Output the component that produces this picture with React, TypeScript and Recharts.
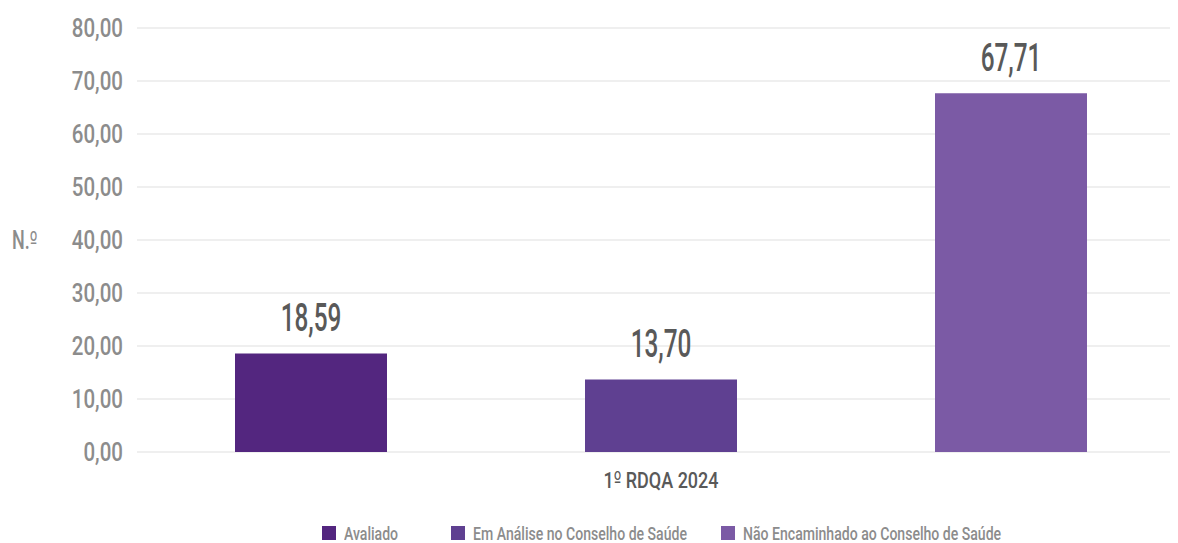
import { BarChart, Bar, XAxis, YAxis, CartesianGrid, Legend, LabelList } from "recharts";

const categories = ["1º RDQA 2024"];
const avaliado = [18.59];
const emAnalise = [13.7];
const naoEncaminhado = [67.71];
const yTicks = [0, 10, 20, 30, 40, 50, 60, 70, 80];

const series = [
  { key: "avaliado", name: "Avaliado", color: "#53267f" },
  { key: "emAnalise", name: "Em Análise no Conselho de Saúde", color: "#5f4091" },
  { key: "naoEncaminhado", name: "Não Encaminhado ao Conselho de Saúde", color: "#7b5aa5" },
];

const data = categories.map((name, i) => ({
  name,
  avaliado: avaliado[i],
  emAnalise: emAnalise[i],
  naoEncaminhado: naoEncaminhado[i],
}));

const FONT = "Roboto, 'DejaVu Sans Condensed', sans-serif";
const ORD_FONT = "'DejaVu Sans Condensed', 'DejaVu Sans', sans-serif";
const fmt = (v: number) => v.toFixed(2).replace(".", ",");

// the ordinal sign (º) is drawn with DejaVu, which has the underlined form
const withOrdinal = (s: string) =>
  s.split("º").flatMap((part, i, arr) =>
    i < arr.length - 1
      ? [<tspan key={`p${i}`}>{part}</tspan>, <tspan key={`o${i}`} fontFamily={ORD_FONT} fontWeight={400}>º</tspan>]
      : [<tspan key={`p${i}`}>{part}</tspan>]
  );

// condensed look: scale glyphs horizontally
const ValueLabel = (props: any) => {
  const { x, y, width, value } = props;
  return (
    <text
      transform={`translate(${x + width / 2},${y - 22}) scale(0.64,1)`}
      textAnchor="middle"
      fontFamily={FONT}
      fontWeight={500}
      fontSize={38}
      fill="#595959"
    >
      {fmt(value)}
    </text>
  );
};

const YTick = (props: any) => {
  const { x, y, payload } = props;
  return (
    <text
      transform={`translate(${x},${y}) scale(0.82,1)`}
      textAnchor="end"
      dy="0.36em"
      fontFamily={FONT}
      fontWeight={500}
      fontSize={25}
      fill="#8c8c8c"
    >
      {fmt(payload.value)}
    </text>
  );
};

const XTick = (props: any) => {
  const { x, y, payload } = props;
  return (
    <text
      transform={`translate(${x},${y}) scale(0.8,1)`}
      textAnchor="middle"
      dy="0.71em"
      fontFamily={FONT}
      fontWeight={500}
      fontSize={22.5}
      fill="#595959"
    >
      {withOrdinal(payload.value)}
    </text>
  );
};

const YLabel = (props: any) => {
  const { viewBox } = props;
  return (
    <text
      transform={`translate(${viewBox.x + 4},${viewBox.y + viewBox.height / 2}) scale(0.72,1)`}
      dy="0.36em"
      fontFamily={FONT}
      fontWeight={500}
      fontSize={25}
      fill="#8c8c8c"
    >
      {withOrdinal("N.º")}
    </text>
  );
};

const itemWidths = [129, 270, 300];

const LegendContent = () => (
  <div style={{ display: "flex", height: 20, paddingLeft: 314, fontFamily: FONT, fontWeight: 500, fontSize: 19, color: "#8c8c8c" }}>
    {series.map((s, i) => (
      <div key={s.key} style={{ display: "flex", alignItems: "center", width: itemWidths[i], whiteSpace: "nowrap" }}>
        <span style={{ width: 14, height: 14, background: s.color, display: "inline-block", marginRight: 8, flex: "none" }} />
        <span style={{ display: "inline-block", transform: "scaleX(0.74)", transformOrigin: "left center" }}>{s.name}</span>
      </div>
    ))}
  </div>
);

export default function App() {
  return (
    <BarChart
      width={1170}
      height={535}
      data={data}
      margin={{ top: 20, right: 1, bottom: 0, left: 0 }}
      barSize={152}
      barGap={198}
    >
      <CartesianGrid vertical={false} stroke="#efefef" strokeWidth={2} />
      <XAxis
        dataKey="name"
        axisLine={false}
        tickLine={false}
        tickMargin={14}
        height={71}
        padding={{ left: 8, right: 0 }}
        tick={<XTick />}
      />
      <YAxis
        domain={[0, 80]}
        ticks={yTicks}
        axisLine={false}
        tickLine={false}
        tickMargin={8}
        width={129}
        tick={<YTick />}
        label={<YLabel />}
      />
      <Legend verticalAlign="bottom" content={<LegendContent />} />
      {series.map((s) => (
        <Bar key={s.key} dataKey={s.key} name={s.name} fill={s.color} isAnimationActive={false}>
          <LabelList dataKey={s.key} content={<ValueLabel />} />
        </Bar>
      ))}
    </BarChart>
  );
}
